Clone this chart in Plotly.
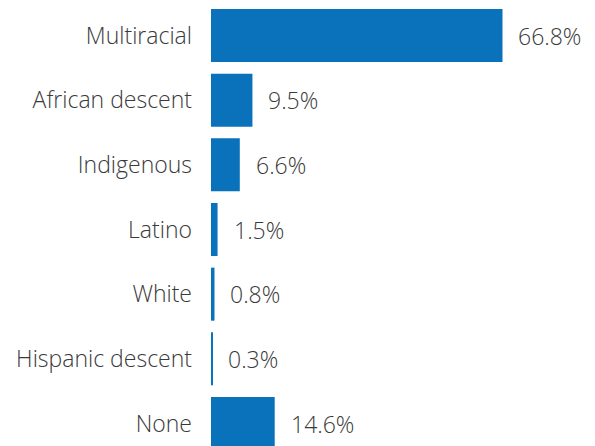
import plotly.graph_objects as go

# Share of respondents by racial / ethnic identification
categories = ["Multiracial", "African descent", "Indigenous", "Latino",
              "White", "Hispanic descent", "None"]
shares = [66.8, 9.5, 6.6, 1.5, 0.8, 0.3, 14.6]
value_labels = ["66.8%", "9.5%", "6.6%", "1.5%", "0.8%", "0.3%", "14.6%"]

BAR_COLOR = "#0a72ba"
TEXT_COLOR = "#3a3a3a"
FONT = "'Open Sans', Lato, sans-serif"
FONT_SIZE = 23

fig = go.Figure(
    go.Bar(
        x=shares,
        y=categories,
        orientation="h",
        marker=dict(color=BAR_COLOR, line=dict(width=0)),
        width=0.82,
        hoverinfo="skip",
    )
)

# value labels placed just past the end of each bar
for cat, val, lab in zip(categories, shares, value_labels):
    fig.add_annotation(
        x=val, y=cat, text=lab, showarrow=False,
        xanchor="left", yanchor="middle", xshift=14,
        font=dict(family=FONT, size=FONT_SIZE, color=TEXT_COLOR, weight=300),
    )

fig.update_layout(
    width=595, height=446,
    margin=dict(l=211, r=0, t=0, b=0),
    paper_bgcolor="white", plot_bgcolor="white",
    showlegend=False,
    xaxis=dict(range=[0, 88], visible=False, fixedrange=True),
    yaxis=dict(
        type="category",
        categoryorder="array", categoryarray=categories,
        range=[6.348, -0.549],
        showgrid=False, zeroline=False, showline=False,
        ticks="", ticklabelstandoff=18,
        tickfont=dict(family=FONT, size=FONT_SIZE, color=TEXT_COLOR, weight=300),
        fixedrange=True,
    ),
)

fig.write_html("out.html")
